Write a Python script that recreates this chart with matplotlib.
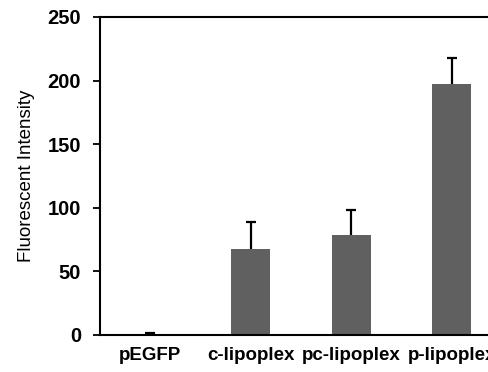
import matplotlib
matplotlib.use("Agg")
import matplotlib.pyplot as plt

categories = ["pEGFP", "c-lipoplex", "pc-lipoplex", "p-lipoplex"]
values = [1, 68, 79, 197]
errors = [0.5, 21, 19, 21]
yticks = [0, 50, 100, 150, 200, 250]

W, H = 489, 372
fig = plt.figure(figsize=(W/100, H/100), dpi=100)
ax = fig.add_axes([100/W, 1-335/H, 402/W, 318/H])
x = range(len(categories))
ax.bar(x, values, width=0.39, color="#606060", zorder=2)
eb = ax.errorbar(x, values, yerr=[[0]*len(errors), errors], fmt="none",
                 ecolor="black", elinewidth=1.6, capsize=3.5, capthick=1.6, zorder=3)
caps = eb[1]
if len(caps) == 2:
    caps[0].set_visible(False)
ax.set_xlim(-0.5, 3.5)
ax.set_ylim(0, 250)
ax.set_yticks(yticks)
ax.set_yticklabels([str(t) for t in yticks], fontsize=14.5, fontweight="bold",
                   family="Liberation Sans")
ax.set_xticks(list(x))
ax.set_xticklabels(categories, fontsize=13.5, fontweight="bold", family="Liberation Sans")
ax.tick_params(axis="x", length=0, pad=9)
ax.tick_params(axis="y", length=5, width=1.3, pad=8.5, direction="out")
for s in ["left", "bottom", "top", "right"]:
    ax.spines[s].set_linewidth(1.5)
ax.set_ylabel("Fluorescent Intensity", fontsize=13.5, family="Liberation Sans",
              labelpad=9)
fig.savefig("out.png", dpi=100)
